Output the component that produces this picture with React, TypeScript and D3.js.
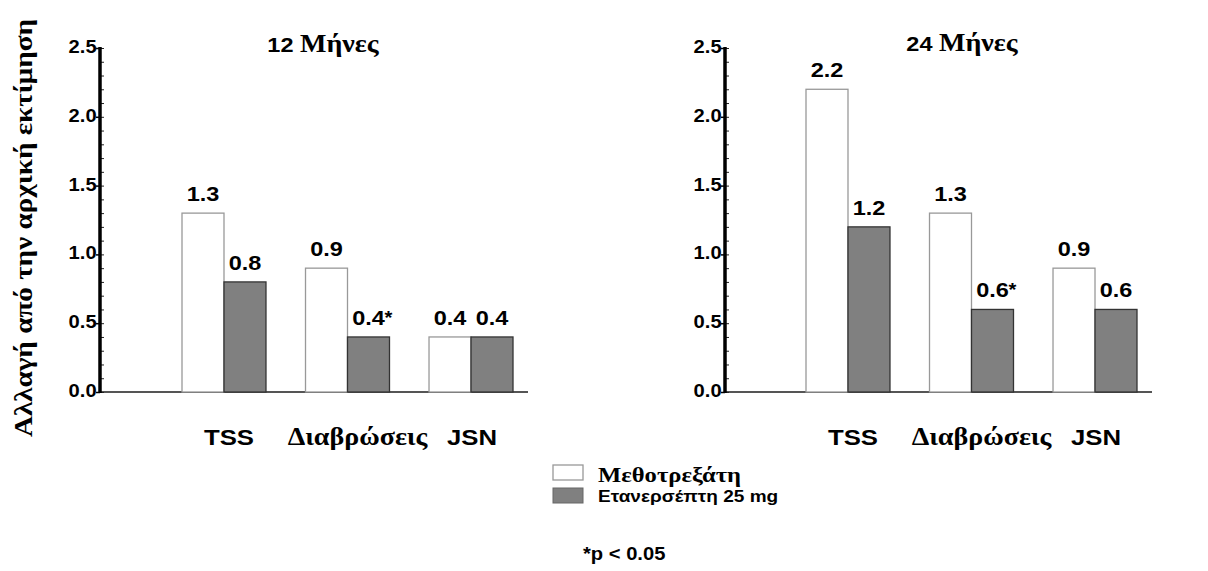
import { useEffect, useRef } from 'react'
import * as d3 from 'd3'

// data
const categories = ['TSS', 'Διαβρώσεις', 'JSN']
const serifCategory = [false, true, false]
const seriesNames = ['Μεθοτρεξάτη', 'Ετανερσέπτη 25 mg']
const mtx12 = [1.3, 0.9, 0.4]
const eta12 = [0.8, 0.4, 0.4]
const sig12 = [false, true, false]
const mtx24 = [2.2, 1.3, 0.9]
const eta24 = [1.2, 0.6, 0.6]
const sig24 = [false, true, false]
const majorTicks = [0, 0.5, 1.0, 1.5, 2.0, 2.5]
const minorTicks = d3.range(0, 26).map(i => i / 10)

const W = 1208
const H = 571
const SANS = 'Liberation Sans, Arial, sans-serif'
const SERIF = 'Liberation Serif, Times New Roman, serif'
const SX = 1.12 // text in the picture is a bit wide

const y = d3.scaleLinear().domain([0, 2.5]).range([392, 48])

const panels = [
  { title: '12', axisX: 100, titleX: 323, range: [182, 513], mtx: mtx12, eta: eta12, sig: sig12 },
  { title: '24', axisX: 725, titleX: 962, range: [806, 1137], mtx: mtx24, eta: eta24, sig: sig24 },
]

const Panel = ({ p }: { p: typeof panels[0] }) => {
  const axisRef = useRef<SVGGElement>(null)
  const minorRef = useRef<SVGGElement>(null)

  const x0 = d3.scaleBand().domain(categories).range(p.range as [number, number]).paddingInner(0.32)
  const x1 = d3.scaleBand().domain(seriesNames).range([0, x0.bandwidth()])

  useEffect(() => {
    const m = d3.select(minorRef.current)
    m.selectAll('*').remove()
    m.call(d3.axisRight(y).tickValues(minorTicks).tickFormat(() => '').tickSize(3).tickSizeOuter(0))
    m.select('.domain').remove()
    m.selectAll('.tick line').attr('stroke', '#222').attr('stroke-width', 1)

    const g = d3.select(axisRef.current)
    g.selectAll('*').remove()
    g.call(d3.axisLeft(y).tickValues(majorTicks).tickFormat(d3.format('.1f')).tickSize(4).tickSizeOuter(0))
    g.select('.domain').remove()
    g.selectAll('.tick line').attr('stroke', '#000').attr('stroke-width', 1.5)
    g.selectAll('.tick text')
      .attr('font-family', SANS)
      .attr('font-weight', 'bold')
      .attr('font-size', 18)
      .attr('fill', '#000')
      .attr('x', -3)
      .attr('dy', '0.25em')
      .attr('transform', `scale(${SX},1)`)
  }, [])

  const lastEnd = p.range[1]
  const rows = categories.map((c, i) => [
    { c, s: seriesNames[0], v: p.mtx[i], star: false },
    { c, s: seriesNames[1], v: p.eta[i], star: p.sig[i] },
  ]).flat()

  return (
    <g>
      <text transform={`translate(${p.titleX},${p.title === '12' ? 52 : 51}) scale(${SX},1)`} textAnchor="middle" fontWeight="bold">
        <tspan fontFamily={SANS} fontSize={21}>{p.title} </tspan>
        <tspan fontFamily={SERIF} fontSize={25}>Μήνες</tspan>
      </text>
      <line x1={p.axisX} x2={lastEnd + 15} y1={y(0)} y2={y(0)} stroke="#555" strokeWidth={2} />
      {rows.map((r, i) => {
        const bx = x0(r.c)! + x1(r.s)!
        const bw = x1.bandwidth()
        const white = r.s === seriesNames[0]
        return (
          <g key={i}>
            <rect x={bx} y={y(r.v)} width={bw} height={y(0) - y(r.v)}
              fill={white ? '#fff' : '#808080'} stroke={white ? '#999' : '#333'} strokeWidth={1.3} />
            <text transform={`translate(${bx + bw / 2},${y(r.v) - 12}) scale(${SX},1)`} textAnchor="middle"
              fontFamily={SANS} fontWeight="bold" fontSize={21}>{r.v.toFixed(1)}</text>
            {r.star && (
              <text transform={`translate(${bx + bw / 2 + 16},${y(r.v) - 13}) scale(${SX},1)`}
                fontFamily={SANS} fontWeight="bold" fontSize={18}>*</text>
            )}
          </g>
        )
      })}
      {categories.map((c, i) => {
        const cx = x0(c)! + x0.bandwidth() / 2 + (i === 1 ? 10 : i === 0 ? 5 : 1)
        const serif = serifCategory[i]
        return (
          <text key={c} transform={`translate(${cx},445) scale(${SX},1)`} textAnchor="middle"
            fontFamily={serif ? SERIF : SANS} fontWeight="bold" fontSize={serif ? 25 : 23}>{c}</text>
        )
      })}
      <g ref={minorRef} transform={`translate(${p.axisX + 1},0)`} />
      <g ref={axisRef} transform={`translate(${p.axisX},0)`} />
      {/* thick y axis line */}
      <line x1={p.axisX} x2={p.axisX} y1={y(0) + 1} y2={y(2.5) - 1} stroke="#000" strokeWidth={3.5} />
    </g>
  )
}

export default function App() {
  return (
    <div style={{ position: 'absolute', left: 0, top: 0, width: W, height: H, background: '#fff' }}>
      <svg width={W} height={H} style={{ display: 'block' }}>
        <rect width={W} height={H} fill="#fff" />
        <text transform={`translate(32,228) rotate(-90) scale(${SX},1)`} textAnchor="middle" fontFamily={SERIF}
          fontWeight="bold" fontSize={26}>Αλλαγή από την αρχική εκτίμηση</text>
        {panels.map(p => <Panel key={p.title} p={p} />)}
        <g>
          <rect x={553} y={465} width={30} height={15} fill="#fff" stroke="#999" strokeWidth={1.3} />
          <text transform={`translate(598,482) scale(${SX},1)`} fontFamily={SERIF} fontWeight="bold" fontSize={22}>{seriesNames[0]}</text>
          <rect x={553} y={488} width={30} height={15} fill="#808080" stroke="#666" strokeWidth={1} />
          <text transform={`translate(598,502) scale(${SX},1)`} fontFamily={SANS} fontWeight="bold" fontSize={17}>{seriesNames[1]}</text>
          <text transform={`translate(583,560) scale(${SX},1)`} fontFamily={SANS} fontWeight="bold" fontSize={18}>*p &lt; 0.05</text>
        </g>
      </svg>
    </div>
  )
}
